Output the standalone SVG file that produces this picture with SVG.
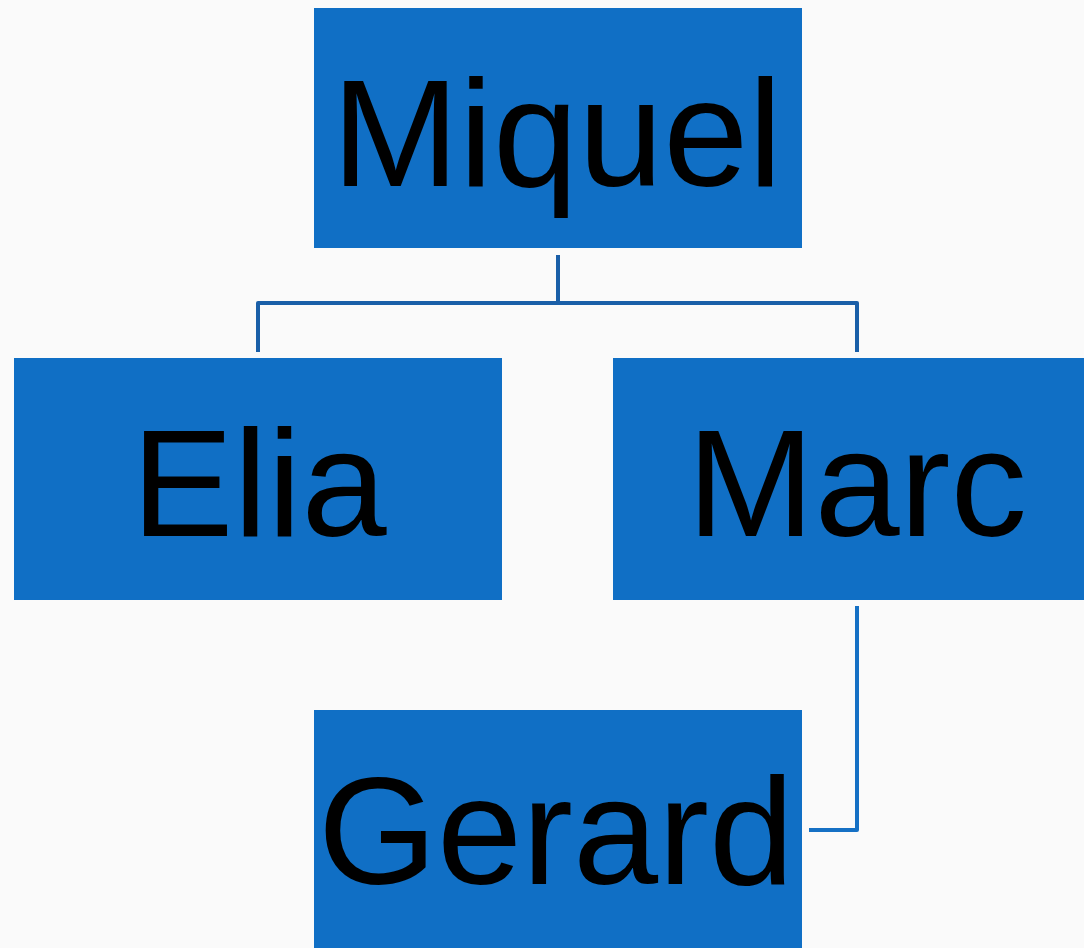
<svg xmlns="http://www.w3.org/2000/svg" width="1084" height="948" viewBox="0 0 1084 948">
<style>
.box{fill:#106fc5;}
.lbl{font-family:"Liberation Sans",Arial,sans-serif;font-size:153px;fill:#000;text-anchor:middle;}
.conn{fill:none;stroke:#1a5fa8;stroke-width:4;stroke-linejoin:round;}
.conn2{fill:none;stroke:#1570c4;stroke-width:4;stroke-linejoin:round;}
</style>
<rect width="1084" height="948" fill="#fafafa"/>
<g id="connectors">
<path class="conn" d="M558,255 V303 M258,352 V303 H857 V352"/>
<path class="conn2" d="M857,606 V830 H809"/>
</g>
<g id="miquel">
<rect class="box" x="314" y="8" width="488" height="240"/>
<text class="lbl" x="557" y="186">Miquel</text>
</g>
<g id="elia">
<rect class="box" x="14" y="358" width="488" height="242"/>
<text class="lbl" x="259" y="536">Elia</text>
</g>
<g id="marc">
<rect class="box" x="613" y="358" width="488" height="242"/>
<text class="lbl" x="857" y="536">Marc</text>
</g>
<g id="gerard">
<rect class="box" x="314" y="710" width="488" height="250"/>
<text class="lbl" x="556" y="884">Gerard</text>
</g>
</svg>
